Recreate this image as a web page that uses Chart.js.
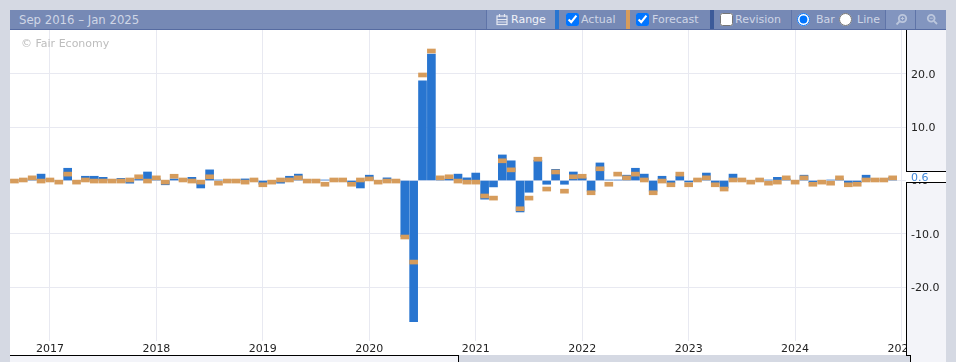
<!DOCTYPE html>
<html>
<head>
<meta charset="utf-8">
<title>Sep 2016 – Jan 2025</title>
<script src="https://cdn.jsdelivr.net/npm/chart.js@4/dist/chart.umd.min.js"></script>
<style>
    html, body { margin: 0; padding: 0; background: #d5d9e3; overflow: hidden; }
    body { width: 956px; height: 362px; position: relative; font-family: "DejaVu Sans", sans-serif; }
    #wrap { position: absolute; left: 0; top: 0; width: 956px; height: 362px; }
    #bar { position: absolute; left: 10px; top: 10px; width: 936px; height: 19px; background: #7689b5; border-bottom: 1px solid #566ba1; }
    .item { position: absolute; top: 0; height: 19px; line-height: 20px; font-size: 11px; color: #cfd6e6; white-space: nowrap; }
    .cell { position: absolute; top: 0; height: 19px; background: #8295bf; border-left: 1px solid #5f74a8; }
    .sep { position: absolute; top: 0; width: 1px; height: 19px; background: #5f74a8; }
    .swatch { position: absolute; top: 0; width: 4px; height: 19px; }
    #bar input { position: absolute; top: 3px; width: 13px; height: 13px; margin: 0; }
    #bar svg { position: absolute; top: 3px; }
    #copy { position: absolute; left: 21px; top: 37px; font-size: 11px; color: #bdbdbd; }
</style>
</head>
<body>
<div id="wrap"><canvas id="chart"></canvas></div>
<div id="bar">
    <div class="item" style="left:9px;font-size:11.7px">Sep 2016 – Jan 2025</div>
    <div class="cell" style="left:476px;width:68px"></div>
    <svg style="left:486px" width="12" height="13" viewBox="0 0 12 13" fill="none" stroke="#e4e8f2" stroke-width="1.2">
        <rect x="1" y="3" width="10" height="8.5"/><path d="M1 6.5h10M1 9h10M3.5 1v3M8.5 1v3"/>
    </svg>
    <div class="item" style="left:501px;color:#f0f2f8">Range</div>
    <div class="swatch" style="left:545px;background:#2875d0"></div>
    <input type="checkbox" checked style="left:556px">
    <div class="item" style="left:571px">Actual</div>
    <div class="swatch" style="left:616px;background:#d69c5c"></div>
    <input type="checkbox" checked style="left:626px">
    <div class="item" style="left:642px">Forecast</div>
    <div class="swatch" style="left:700px;background:#3c5a99"></div>
    <input type="checkbox" style="left:710px">
    <div class="item" style="left:725px">Revision</div>
    <div class="sep" style="left:781px"></div>
    <input type="radio" name="kind" checked style="left:787px">
    <div class="item" style="left:806px">Bar</div>
    <input type="radio" name="kind" style="left:829px">
    <div class="item" style="left:847px">Line</div>
    <div class="cell" style="left:875px;width:29px"></div>
    <div class="cell" style="left:905px;width:30px"></div>
    <svg style="left:885px" width="13" height="13" viewBox="0 0 13 13" fill="none" stroke="#bcc7dd" stroke-width="1.8">
        <circle cx="7.5" cy="5.5" r="3.7"/><path d="M4.8 8.2L1.5 11.5"/><path d="M5.8 5.5h3.4M7.5 3.8v3.4" stroke-width="1"/>
    </svg>
    <svg style="left:916px" width="13" height="13" viewBox="0 0 13 13" fill="none" stroke="#bcc7dd" stroke-width="1.8">
        <circle cx="5.2" cy="5.2" r="3.4"/><path d="M7.8 7.8L11 11"/><path d="M3.6 5.2h3.2" stroke-width="1"/>
    </svg>
</div>
<div id="copy">© Fair Economy</div>
<script>
const months = [
    'Sep 2016', 'Oct 2016', 'Nov 2016', 'Dec 2016',
    'Jan 2017', 'Feb 2017', 'Mar 2017', 'Apr 2017', 'May 2017', 'Jun 2017', 'Jul 2017', 'Aug 2017', 'Sep 2017', 'Oct 2017', 'Nov 2017', 'Dec 2017',
    'Jan 2018', 'Feb 2018', 'Mar 2018', 'Apr 2018', 'May 2018', 'Jun 2018', 'Jul 2018', 'Aug 2018', 'Sep 2018', 'Oct 2018', 'Nov 2018', 'Dec 2018',
    'Jan 2019', 'Feb 2019', 'Mar 2019', 'Apr 2019', 'May 2019', 'Jun 2019', 'Jul 2019', 'Aug 2019', 'Sep 2019', 'Oct 2019', 'Nov 2019', 'Dec 2019',
    'Jan 2020', 'Feb 2020', 'Mar 2020', 'Apr 2020', 'May 2020', 'Jun 2020', 'Jul 2020', 'Aug 2020', 'Sep 2020', 'Oct 2020', 'Nov 2020', 'Dec 2020',
    'Jan 2021', 'Feb 2021', 'Mar 2021', 'Apr 2021', 'May 2021', 'Jun 2021', 'Jul 2021', 'Aug 2021', 'Sep 2021', 'Oct 2021', 'Nov 2021', 'Dec 2021',
    'Jan 2022', 'Feb 2022', 'Mar 2022', 'Apr 2022', 'May 2022', 'Jun 2022', 'Jul 2022', 'Aug 2022', 'Sep 2022', 'Oct 2022', 'Nov 2022', 'Dec 2022',
    'Jan 2023', 'Feb 2023', 'Mar 2023', 'Apr 2023', 'May 2023', 'Jun 2023', 'Jul 2023', 'Aug 2023', 'Sep 2023', 'Oct 2023', 'Nov 2023', 'Dec 2023',
    'Jan 2024', 'Feb 2024', 'Mar 2024', 'Apr 2024', 'May 2024', 'Jun 2024', 'Jul 2024', 'Aug 2024', 'Sep 2024', 'Oct 2024', 'Nov 2024', 'Dec 2024',
    'Jan 2025'
];

const actual = [
    0.1, 0.1, 0.3, 1.2,
    0.1, -0.1, 2.3, -0.1, 0.8, 0.8, 0.6, 0.1, 0.4, -0.5, 0.2, 1.6,
    0.3, -0.8, 0.3, 0.1, 0.6, -1.4, 2.0, 0.1, 0.1, 0.1, 0.3, 0.1,
    -0.7, -0.1, -0.5, 0.8, 1.2, 0.1, 0.1, 0.1, 0.1, 0.1, -0.5, -1.4,
    1.0, -0.1, 0.5, 0.1, -10.5, -26.5, 18.7, 23.7, 0.3, 0.3, 1.2, 0.5,
    1.4, -3.5, -1.2, 4.8, 3.7, -5.9, -2.2, 3.8, -0.7, 2.1, -0.7, 1.6,
    0.5, -2.0, 3.3, 0.1, 0.1, 1.0, 2.3, 1.2, -2.0, 0.8, -0.5, 0.8,
    -0.3, 0.1, 1.4, -0.5, -1.4, 1.2, 0.1, -0.1, 0.1, 0.1, 0.6, 0.3,
    -0.1, 1.0, -0.4, -0.1, 0.1, 0.3, -0.5, -0.4, 1.0, 0.1, 0.1, 0.6,
    null
];

const forecast = [
    -0.1, 0.1, 0.5, -0.1,
    0.1, -0.3, 1.2, -0.3, 0.1, -0.1, -0.1, -0.1, -0.1, 0.1, 0.7, -0.1,
    0.5, -0.3, 0.8, 0.1, -0.1, -0.3, 0.7, -0.5, -0.1, -0.1, -0.3, 0.1,
    -0.8, -0.3, 0.1, 0.1, 0.5, -0.1, -0.1, -0.7, 0.1, 0.1, -0.7, 0.1,
    0.3, -0.3, -0.1, -0.1, -10.6, -15.3, 19.8, 24.3, 0.5, 0.7, -0.1, -0.3,
    -0.3, -2.9, -3.3, 3.7, 2.0, -5.3, -3.3, 4.0, -1.6, 1.6, -2.0, 0.7,
    0.8, -2.3, 2.2, -0.7, 1.2, 0.5, 1.2, 0.1, -2.3, -0.1, -0.8, 1.2,
    -0.8, 0.1, 0.5, -0.8, -1.6, 0.1, 0.1, -0.3, 0.1, -0.5, -0.3, 0.5,
    -0.3, 0.5, -0.7, -0.3, -0.5, 0.5, -0.8, -0.7, 0.1, 0.1, 0.1, 0.5,
    null
];

const latestValue = 0.6;
const markerHalf = 0.375;

// white plot behind everything, side panel and black frame over the x labels
const framePlugin = {
    id: 'frame',
    beforeDraw(chart) {
        const ctx = chart.ctx;
        ctx.save();
        ctx.fillStyle = '#ffffff';
        ctx.fillRect(10, 30, 896, 325);
        ctx.fillStyle = '#f3f4f9';
        ctx.fillRect(10, 355, 449, 7);
        ctx.fillStyle = '#000000';
        ctx.fillRect(10, 355, 449, 1);
        ctx.fillRect(458, 355, 1, 7);
        ctx.restore();
    },
    afterDatasetsDraw(chart) {
        const ctx = chart.ctx;
        ctx.save();
        ctx.fillStyle = '#f3f4f9';
        ctx.fillRect(906, 30, 40, 332);
        ctx.fillStyle = '#d5d9e3';
        ctx.fillRect(906, 356, 4, 6);
        ctx.fillStyle = '#000000';
        ctx.fillRect(906, 30, 1, 326);
        ctx.fillRect(906, 355, 5, 1);
        ctx.fillRect(910, 355, 1, 7);
        ctx.restore();
    },
    afterDraw(chart) {
        const ctx = chart.ctx;
        const y = Math.round(chart.scales.y.getPixelForValue(latestValue));
        ctx.save();
        ctx.fillStyle = '#ffffff';
        ctx.fillRect(906, y - 6, 40, 11);
        ctx.fillStyle = '#000000';
        ctx.fillRect(906, y - 6, 40, 1);
        ctx.fillRect(906, y + 5, 40, 1);
        ctx.fillStyle = '#3f86d8';
        ctx.font = '11px "DejaVu Sans"';
        ctx.textBaseline = 'middle';
        ctx.fillText(latestValue.toFixed(1), 911, y + 1);
        ctx.restore();
    }
};

function initChart() {
    const ctx = document.getElementById('chart').getContext('2d');
    new Chart(ctx, {
        type: 'bar',
        data: {
            labels: months,
            datasets: [
                {
                    label: 'Forecast',
                    data: forecast.map(v => v === null ? null : [v - markerHalf, v + markerHalf]),
                    backgroundColor: '#d69c5c',
                    grouped: false,
                    barThickness: 8,
                    order: 1
                },
                {
                    label: 'Actual',
                    data: actual,
                    backgroundColor: '#2875d0',
                    grouped: false,
                    barThickness: 8,
                    order: 2
                }
            ]
        },
        options: {
            responsive: true,
            maintainAspectRatio: false,
            animation: false,
            layout: { padding: { left: 10, top: 30, right: 10, bottom: 7 } },
            plugins: {
                legend: { display: false },
                tooltip: { enabled: false }
            },
            scales: {
                x: {
                    offset: true,
                    afterBuildTicks: axis => {
                        axis.ticks = axis.ticks.filter(t => months[t.value].startsWith('Jan'));
                    },
                    afterFit: axis => { axis.height = 14; },
                    grid: { offset: false, color: '#e8e9f1', drawTicks: false },
                    border: { display: false },
                    ticks: {
                        autoSkip: false,
                        maxRotation: 0,
                        padding: 2,
                        color: '#222222',
                        font: { family: '"DejaVu Sans"', size: 11 },
                        callback: value => months[value].slice(-4)
                    }
                },
                y: {
                    position: 'right',
                    min: -30.11,
                    max: 28.24,
                    afterBuildTicks: axis => {
                        axis.ticks = [-20, -10, 0, 10, 20].map(value => ({ value }));
                    },
                    afterFit: axis => { axis.width = 40; },
                    grid: { color: '#e8e9f1', drawTicks: false },
                    border: { display: false },
                    ticks: {
                        z: 1,
                        padding: 5,
                        labelOffset: 1,
                        color: '#222222',
                        font: { family: '"DejaVu Sans"', size: 11 },
                        callback: value => value.toFixed(1)
                    }
                }
            }
        },
        plugins: [framePlugin]
    });
}

document.addEventListener('DOMContentLoaded', initChart);
</script>
</body>
</html>
